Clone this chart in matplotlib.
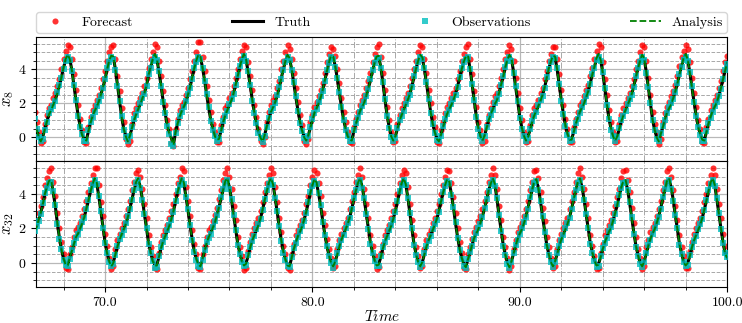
import numpy as np
import matplotlib
matplotlib.use("Agg")
import matplotlib.pyplot as plt
from matplotlib.ticker import MultipleLocator, FormatStrFormatter

plt.rcParams['font.family'] = 'serif'
plt.rcParams['font.serif'] = ['cmr10', 'DejaVu Serif']
plt.rcParams['mathtext.fontset'] = 'cm'
plt.rcParams['axes.formatter.use_mathtext'] = True

# "*" lists are read at t = 66.6 + 0.2k, "*_half" lists at t = 66.7 + 0.2k
t_start = 66.6
dt = 0.2

truth_x8 = [
    1.05, 0.05, 0.05, 0.95, 1.6, 2.2, 3.0, 4.1, 4.8, 3.95,
    2.15, 0.65, -0.1, 0.35, 1.25, 1.8, 2.5, 3.4, 4.45, 4.7,
    3.05, 1.2, 0.1, 0.1, 1.0, 1.65, 2.25, 3.05, 4.15, 4.85,
    3.85, 2.15, 0.7, -0.05, 0.3, 1.2, 1.8, 2.5, 3.5, 4.5,
    4.7, 3.35, 1.7, 0.5, -0.15, 0.4, 1.3, 1.9, 2.6, 3.6,
    4.6, 4.55, 3.05, 1.45, 0.3, -0.2, 0.65, 1.5, 2.05, 2.9,
    4.0, 4.8, 4.0, 2.35, 0.9, 0.05, 0.1, 1.0, 1.7, 2.35,
    3.35, 4.4, 4.7, 3.45, 1.8, 0.5, -0.1, 0.35, 1.2, 1.8,
    2.45, 3.35, 4.4, 4.75, 3.2, 1.3, 0.1, 0.05, 0.95, 1.6,
    2.2, 3.0, 4.05, 4.8, 4.0, 2.3, 0.8, -0.05, 0.15, 1.0,
    1.65, 2.2, 3.0, 4.0, 4.7, 4.05, 2.15, 0.55, -0.15, 0.55,
    1.35, 1.95, 2.6, 3.55, 4.55, 4.6, 2.95, 1.2, 0.1, 0.05,
    0.9, 1.55, 2.15, 2.95, 4.05, 4.75, 4.0, 2.2, 0.7, -0.1,
    0.3, 1.15, 1.75, 2.35, 3.2, 4.15, 4.85, 3.8, 1.95, 0.5,
    -0.15, 0.5, 1.3, 1.9, 2.55, 3.55, 4.5, 4.6, 2.9, 1.05,
    0.0, 0.2, 1.05, 1.7, 2.3, 3.15, 4.2, 4.85, 3.8, 2.1,
    0.65, -0.1, 0.3, 1.2, 1.8, 2.45, 3.4, 4.4]

truth_x8_half = [
    0.45, -0.2, 0.5, 1.35, 1.9, 2.6, 3.55, 4.55, 4.6, 3.05,
    1.3, 0.15, -0.15, 0.85, 1.55, 2.1, 2.95, 4.0, 4.75, 4.0,
    2.1, 0.5, -0.2, 0.55, 1.35, 1.95, 2.6, 3.65, 4.55, 4.6,
    3.05, 1.4, 0.25, -0.45, 0.8, 1.55, 2.1, 2.95, 4.05, 4.8,
    4.1, 2.5, 1.0, 0.1, -0.05, 0.9, 1.6, 2.2, 3.1, 4.15,
    4.85, 3.85, 2.2, 0.8, 0.0, 0.15, 1.1, 1.75, 2.45, 3.5,
    4.5, 4.6, 3.2, 1.6, 0.4, -0.15, 0.55, 1.45, 2.0, 2.8,
    3.9, 4.75, 4.2, 2.6, 1.05, 0.1, -0.15, 0.8, 1.55, 2.05,
    2.9, 3.9, 4.7, 4.1, 2.2, 0.6, -0.15, 0.5, 1.3, 1.9,
    2.55, 3.55, 4.5, 4.65, 3.2, 1.5, 0.3, -0.2, 0.6, 1.4,
    1.9, 2.55, 3.5, 4.45, 4.75, 3.1, 1.25, 0.1, 0.1, 1.0,
    1.65, 2.2, 3.1, 4.1, 4.8, 3.85, 2.1, 0.55, -0.15, 0.45,
    1.3, 1.85, 2.5, 3.5, 4.45, 4.7, 3.1, 1.4, 0.2, -0.1,
    0.8, 1.5, 2.0, 2.7, 3.7, 4.6, 4.55, 2.85, 1.1, 0.1,
    0.05, 0.95, 1.6, 2.2, 3.0, 4.05, 4.8, 3.85, 1.95, 0.45,
    -0.2, 0.6, 1.45, 1.95, 2.7, 3.7, 4.6, 4.55, 2.95, 1.3,
    0.2, -0.15, 0.8, 1.55, 2.05, 2.9, 3.9]

obs_x8 = [
    1.1, 0.0, -0.1, 0.9, 1.65, 2.15, 3.05, 4.0, 4.7, 3.9,
    2.2, 0.6, -0.2, 0.4, 1.2, 1.85, 2.45, 3.45, 4.4, 4.6,
    3.0, 1.25, 0.0, 0.05, 1.05, 1.6, 2.3, 3.0, 4.1, 4.75,
    3.9, 2.1, 0.65, -0.4, 0.25, 1.25, 1.75, 2.55, 3.45, 4.45,
    4.6, 3.3, 1.75, 0.45, -0.2, 0.45, 1.25, 1.95, 2.55, 3.65,
    4.5, 4.5, 3.1, 1.4, 0.25, -0.3, 0.6, 1.55, 2.0, 2.95,
    3.95, 4.7, 3.95, 2.4, 0.85, -0.05, 0.05, 1.05, 1.65, 2.4,
    3.3, 4.35, 4.6, 3.5, 1.75, 0.45, -0.2, 0.4, 1.15, 1.85,
    2.4, 3.4, 4.35, 4.65, 3.25, 1.25, 0.0, -0.05, 1.0, 1.55,
    2.25, 2.95, 4.0, 4.7, 4.05, 2.25, 0.75, -0.15, 0.1, 1.05,
    1.6, 2.25, 2.95, 4.05, 4.6, 4.0, 2.2, 0.5, -0.25, 0.6,
    1.3, 2.0, 2.55, 3.6, 4.5, 4.5, 3.0, 1.15, 0.05, -0.05,
    0.95, 1.5, 2.2, 2.9, 4.0, 4.7, 4.05, 2.15, 0.65, -0.2,
    0.35, 1.1, 1.8, 2.4, 3.15, 4.1, 4.75, 3.85, 1.9, 0.45,
    -0.25, 0.55, 1.25, 1.95, 2.5, 3.6, 4.45, 4.55, 2.95, 1.0,
    -0.1, 0.25, 1.0, 1.75, 2.25, 3.2, 4.15, 4.75, 3.85, 2.05,
    0.6, -0.2, 0.35, 1.15, 1.85, 2.4, 3.45, 4.3]

obs_x8_half = [
    0.5, -0.25, 0.45, 1.4, 1.85, 2.65, 3.5, 4.5, 4.55, 3.1,
    1.25, 0.2, -0.2, 0.9, 1.5, 2.15, 2.9, 4.05, 4.7, 3.95,
    2.15, 0.45, -0.25, 0.6, 1.3, 2.0, 2.55, 3.7, 4.5, 4.55,
    3.0, 1.45, 0.2, -0.5, 0.85, 1.5, 2.15, 2.9, 4.1, 4.75,
    4.05, 2.55, 0.95, 0.05, -0.1, 0.95, 1.55, 2.25, 3.05, 4.2,
    4.8, 3.9, 2.15, 0.85, -0.05, 0.1, 1.15, 1.7, 2.5, 3.45,
    4.45, 4.55, 3.25, 1.55, 0.35, -0.2, 0.6, 1.4, 2.05, 2.75,
    3.95, 4.7, 4.15, 2.65, 1.0, 0.05, -0.2, 0.85, 1.5, 2.1,
    2.85, 3.95, 4.65, 4.05, 2.25, 0.55, -0.2, 0.55, 1.25, 1.95,
    2.5, 3.6, 4.45, 4.6, 3.25, 1.45, 0.25, -0.25, 0.65, 1.35,
    1.95, 2.5, 3.55, 4.4, 4.7, 3.15, 1.2, 0.05, 0.05, 1.05,
    1.6, 2.25, 3.05, 4.15, 4.75, 3.8, 2.15, 0.5, -0.2, 0.5,
    1.25, 1.9, 2.45, 3.55, 4.4, 4.65, 3.15, 1.35, 0.15, -0.15,
    0.85, 1.45, 2.05, 2.65, 3.75, 4.55, 4.5, 2.9, 1.05, 0.05,
    0.0, 1.0, 1.55, 2.25, 2.95, 4.1, 4.75, 3.8, 2.0, 0.4,
    -0.25, 0.65, 1.4, 2.0, 2.65, 3.75, 4.55, 4.5, 3.0, 1.25,
    0.15, -0.2, 0.85, 1.5, 2.1, 2.85, 3.95]

forecast_x8 = [
    1.5, 0.3, -0.2, 1.3, 1.9, 2.6, 3.4, 4.6, 5.4, 4.6,
    2.8, 1.1, -0.3, 0.6, 1.6, 2.2, 2.9, 3.9, 5.0, 5.4,
    3.6, 1.7, -0.1, -0.2, 1.4, 2.0, 2.6, 3.5, 4.6, 5.5,
    4.5, 2.7, 1.0, -0.35, 0.5, 1.6, 2.1, 2.9, 3.9, 5.0,
    5.6, 3.9, 2.2, 0.8, -0.3, 0.7, 1.7, 2.3, 3.0, 4.0,
    5.1, 5.3, 3.6, 1.9, 0.5, -0.4, 0.9, 1.9, 2.4, 3.3,
    4.5, 5.4, 4.6, 2.9, 1.3, -0.25, -0.1, 1.3, 2.1, 2.8,
    3.8, 4.9, 5.2, 4.0, 2.3, 0.9, -0.3, 0.6, 1.5, 2.2,
    2.9, 3.8, 4.9, 5.5, 3.8, 1.8, 0.3, -0.2, 1.3, 2.0,
    2.6, 3.5, 4.5, 5.4, 4.6, 2.8, 1.2, -0.3, 0.4, 1.4,
    2.0, 2.6, 3.4, 4.5, 5.3, 4.6, 2.7, 0.9, -0.35, 0.8,
    1.7, 2.4, 3.0, 4.0, 5.0, 5.2, 3.5, 1.7, 0.3, -0.2,
    1.3, 1.9, 2.6, 3.4, 4.5, 5.3, 4.6, 2.8, 1.1, -0.3,
    0.6, 1.5, 2.1, 2.8, 3.6, 4.6, 5.5, 4.4, 2.5, 0.9,
    -0.3, 0.8, 1.7, 2.3, 3.0, 4.0, 5.0, 5.3, 3.5, 1.5,
    0.3, -0.1, 1.4, 2.1, 2.7, 3.6, 4.7, 5.4, 4.4, 2.6,
    1.0, -0.3, 0.6, 1.6, 2.2, 2.9, 3.9, 4.8]

forecast_x8_half = [
    0.9, -0.35, 0.8, 1.7, 2.3, 3.0, 4.0, 5.1, 5.3, 3.7,
    1.9, 0.4, -0.35, 1.2, 1.9, 2.5, 3.4, 4.5, 5.3, 4.6,
    2.7, 0.9, -0.4, 0.8, 1.7, 2.3, 3.0, 4.1, 5.0, 5.3,
    3.6, 1.9, 0.5, -0.5, 1.1, 1.9, 2.5, 3.4, 4.5, 5.6,
    4.7, 3.0, 1.5, 0.3, -0.3, 1.2, 1.9, 2.6, 3.5, 4.6,
    5.4, 4.4, 2.8, 1.2, -0.2, 0.0, 1.5, 2.2, 2.9, 4.0,
    5.0, 5.2, 3.8, 2.1, 0.7, -0.4, 0.9, 1.8, 2.4, 3.2,
    4.4, 5.3, 4.8, 3.2, 1.5, 0.3, -0.35, 1.1, 1.9, 2.5,
    3.3, 4.4, 5.3, 4.7, 2.8, 1.0, -0.3, 0.8, 1.7, 2.3,
    3.0, 4.0, 5.0, 5.3, 3.8, 2.0, 0.6, -0.35, 0.9, 1.8,
    2.3, 2.9, 3.9, 4.9, 5.5, 3.7, 1.8, 0.4, -0.2, 1.3,
    2.1, 2.6, 3.5, 4.6, 5.4, 4.5, 2.6, 1.0, -0.3, 0.7,
    1.7, 2.2, 2.9, 3.9, 4.9, 5.3, 3.7, 1.9, 0.5, -0.3,
    1.1, 1.9, 2.4, 3.1, 4.1, 5.1, 5.3, 3.4, 1.6, 0.3,
    -0.2, 1.3, 2.0, 2.6, 3.4, 4.5, 5.4, 4.5, 2.5, 0.8,
    -0.4, 0.9, 1.8, 2.4, 3.1, 4.2, 5.1, 5.2, 3.5, 1.8,
    0.5, -0.35, 1.1, 1.9, 2.5, 3.3, 4.4]

analysis_x8 = [
    1.0, 0.05, 0.0, 0.95, 1.6, 2.2, 3.05, 4.1, 4.85, 3.95,
    2.15, 0.6, -0.1, 0.35, 1.25, 1.8, 2.5, 3.4, 4.5, 4.75,
    3.05, 1.2, 0.05, 0.1, 1.0, 1.65, 2.3, 3.05, 4.15, 4.9,
    3.85, 2.15, 0.7, -0.1, 0.3, 1.2, 1.8, 2.5, 3.5, 4.5,
    4.75, 3.35, 1.7, 0.5, -0.15, 0.4, 1.3, 1.9, 2.6, 3.6,
    4.6, 4.6, 3.05, 1.45, 0.3, -0.25, 0.65, 1.5, 2.05, 2.9,
    4.0, 4.85, 4.0, 2.35, 0.9, 0.0, 0.1, 1.0, 1.7, 2.35,
    3.35, 4.4, 4.75, 3.45, 1.8, 0.5, -0.15, 0.35, 1.2, 1.8,
    2.45, 3.35, 4.4, 4.8, 3.2, 1.3, 0.05, 0.05, 0.95, 1.6,
    2.2, 3.0, 4.05, 4.85, 4.0, 2.3, 0.8, -0.1, 0.15, 1.0,
    1.65, 2.2, 3.0, 4.0, 4.75, 4.05, 2.15, 0.55, -0.2, 0.55,
    1.35, 1.95, 2.6, 3.55, 4.55, 4.65, 2.95, 1.2, 0.1, 0.0,
    0.9, 1.55, 2.15, 2.95, 4.05, 4.8, 4.0, 2.2, 0.7, -0.15,
    0.3, 1.15, 1.75, 2.35, 3.2, 4.15, 4.9, 3.8, 1.95, 0.5,
    -0.2, 0.5, 1.3, 1.9, 2.55, 3.55, 4.5, 4.65, 2.9, 1.05,
    0.0, 0.2, 1.05, 1.7, 2.3, 3.15, 4.2, 4.9, 3.8, 2.1,
    0.6, -0.15, 0.3, 1.2, 1.8, 2.45, 3.4, 4.4]

analysis_x8_half = [
    0.45, -0.25, 0.5, 1.35, 1.9, 2.6, 3.55, 4.6, 4.6, 3.05,
    1.3, 0.1, -0.2, 0.85, 1.55, 2.1, 2.95, 4.0, 4.8, 4.0,
    2.1, 0.5, -0.25, 0.55, 1.35, 1.95, 2.6, 3.65, 4.6, 4.6,
    3.05, 1.4, 0.2, -0.45, 0.8, 1.55, 2.1, 2.95, 4.05, 4.85,
    4.1, 2.5, 1.0, 0.05, -0.1, 0.9, 1.6, 2.2, 3.1, 4.15,
    4.9, 3.85, 2.2, 0.8, -0.05, 0.15, 1.1, 1.75, 2.45, 3.5,
    4.5, 4.65, 3.2, 1.6, 0.4, -0.2, 0.55, 1.45, 2.0, 2.8,
    3.9, 4.8, 4.2, 2.6, 1.05, 0.05, -0.2, 0.8, 1.55, 2.05,
    2.9, 3.9, 4.75, 4.1, 2.2, 0.6, -0.2, 0.5, 1.3, 1.9,
    2.55, 3.55, 4.5, 4.7, 3.2, 1.5, 0.3, -0.25, 0.6, 1.4,
    1.9, 2.55, 3.5, 4.45, 4.8, 3.1, 1.25, 0.05, 0.1, 1.0,
    1.65, 2.2, 3.1, 4.1, 4.85, 3.85, 2.1, 0.55, -0.2, 0.45,
    1.3, 1.85, 2.5, 3.5, 4.45, 4.75, 3.1, 1.4, 0.2, -0.15,
    0.8, 1.5, 2.0, 2.7, 3.7, 4.65, 4.55, 2.85, 1.1, 0.05,
    0.05, 0.95, 1.6, 2.2, 3.0, 4.05, 4.85, 3.85, 1.95, 0.45,
    -0.25, 0.6, 1.45, 1.95, 2.7, 3.7, 4.65, 4.55, 2.95, 1.3,
    0.2, -0.2, 0.8, 1.55, 2.05, 2.9, 3.9]

truth_x32 = [
    1.8, 2.5, 3.4, 4.4, 4.75, 3.3, 1.45, 0.25, -0.1, 0.7,
    1.5, 2.0, 2.65, 3.6, 4.55, 4.6, 2.95, 1.2, 0.1, 0.05,
    0.95, 1.65, 2.25, 3.15, 4.2, 4.85, 3.7, 2.0, 0.6, -0.1,
    0.35, 1.25, 1.85, 2.55, 3.55, 4.55, 4.6, 3.05, 1.4, 0.25,
    -0.15, 0.7, 1.5, 2.05, 2.8, 3.75, 4.7, 4.35, 2.75, 1.1,
    0.1, 0.0, 0.9, 1.6, 2.2, 3.1, 4.15, 4.85, 3.8, 2.1,
    0.65, -0.1, 0.3, 1.2, 1.8, 2.5, 3.5, 4.5, 4.6, 3.3,
    1.65, 0.45, -0.15, 0.5, 1.35, 1.95, 2.65, 3.7, 4.65, 4.4,
    2.8, 1.15, 0.15, -0.05, 0.85, 1.55, 2.15, 3.0, 4.1, 4.85,
    3.8, 1.95, 0.5, -0.15, 0.5, 1.3, 1.9, 2.55, 3.55, 4.5,
    4.65, 3.2, 1.5, 0.3, -0.2, 0.6, 1.45, 1.95, 2.7, 3.65,
    4.6, 4.5, 2.75, 1.05, 0.05, 0.1, 1.0, 1.7, 2.3, 3.2,
    4.25, 4.8, 3.55, 1.85, 0.5, -0.15, 0.5, 1.35, 1.95, 2.65,
    3.7, 4.65, 4.4, 2.8, 1.15, 0.15, -0.05, 0.8, 1.5, 2.05,
    2.9, 3.9, 4.7, 4.25, 2.6, 1.0, 0.05, 0.1, 1.0, 1.7,
    2.3, 3.2, 4.25, 4.85, 3.65, 1.95, 0.55, -0.1, 0.4, 1.3,
    1.9, 2.6, 3.6, 4.6, 4.5, 2.85, 1.2, 0.3]

truth_x32_half = [
    2.1, 2.9, 4.0, 4.7, 4.1, 2.3, 0.75, -0.05, 0.3, 1.1,
    1.7, 2.3, 3.15, 4.15, 4.85, 3.85, 2.1, 0.55, -0.15, 0.5,
    1.35, 1.95, 2.65, 3.7, 4.65, 4.4, 2.8, 1.15, 0.15, -0.1,
    0.85, 1.55, 2.15, 3.0, 4.1, 4.85, 3.85, 2.15, 0.7, -0.05,
    0.25, 1.15, 1.75, 2.35, 3.25, 4.25, 4.85, 3.65, 1.95, 0.55,
    -0.1, 0.4, 1.3, 1.9, 2.6, 3.65, 4.6, 4.55, 2.95, 1.3,
    0.2, -0.15, 0.8, 1.55, 2.1, 2.95, 4.05, 4.8, 4.0, 2.4,
    0.95, 0.05, 0.1, 0.95, 1.65, 2.25, 3.15, 4.2, 4.85, 3.7,
    2.0, 0.6, -0.1, 0.35, 1.25, 1.85, 2.55, 3.55, 4.55, 4.55,
    2.85, 1.1, 0.1, 0.05, 0.95, 1.6, 2.2, 3.0, 4.05, 4.8,
    4.0, 2.3, 0.8, -0.05, 0.2, 1.05, 1.7, 2.3, 3.15, 4.2,
    4.85, 3.7, 1.9, 0.5, -0.2, 0.55, 1.4, 1.95, 2.7, 3.75,
    4.7, 4.3, 2.65, 1.05, 0.1, 0.1, 0.95, 1.65, 2.25, 3.15,
    4.2, 4.85, 3.7, 2.0, 0.6, -0.1, 0.35, 1.2, 1.8, 2.45,
    3.35, 4.4, 4.75, 3.45, 1.75, 0.45, -0.15, 0.55, 1.4, 1.95,
    2.7, 3.75, 4.7, 4.35, 2.75, 1.1, 0.1, 0.0, 0.9, 1.6,
    2.2, 3.1, 4.15, 4.85, 3.7, 2.0, 0.55]

obs_x32 = [
    1.85, 2.45, 3.45, 4.35, 4.7, 3.35, 1.4, 0.2, -0.2, 0.75,
    1.45, 2.05, 2.6, 3.65, 4.5, 4.55, 3.0, 1.15, 0.05, -0.05,
    1.0, 1.6, 2.3, 3.1, 4.25, 4.8, 3.65, 2.05, 0.55, -0.3,
    0.4, 1.2, 1.9, 2.5, 3.6, 4.5, 4.55, 3.1, 1.35, 0.2,
    -0.25, 0.75, 1.45, 2.1, 2.75, 3.8, 4.65, 4.3, 2.8, 1.05,
    0.05, -0.1, 0.95, 1.55, 2.25, 3.05, 4.2, 4.8, 3.75, 2.15,
    0.6, -0.2, 0.35, 1.15, 1.85, 2.45, 3.55, 4.45, 4.55, 3.35,
    1.6, 0.4, -0.3, 0.55, 1.3, 2.0, 2.6, 3.75, 4.6, 4.35,
    2.85, 1.1, 0.1, -0.15, 0.9, 1.5, 2.2, 2.95, 4.15, 4.8,
    3.75, 2.0, 0.45, -0.25, 0.55, 1.25, 1.95, 2.5, 3.6, 4.45,
    4.6, 3.25, 1.45, 0.25, -0.3, 0.65, 1.4, 2.0, 2.65, 3.7,
    4.55, 4.45, 2.8, 1.0, -0.05, 0.05, 1.05, 1.65, 2.35, 3.15,
    4.3, 4.75, 3.6, 1.8, 0.45, -0.25, 0.55, 1.3, 2.0, 2.6,
    3.75, 4.6, 4.35, 2.85, 1.1, 0.1, -0.15, 0.85, 1.45, 2.1,
    2.85, 3.95, 4.65, 4.2, 2.65, 0.95, -0.05, 0.05, 1.05, 1.65,
    2.35, 3.15, 4.3, 4.8, 3.6, 2.0, 0.5, -0.2, 0.45, 1.25,
    1.95, 2.55, 3.65, 4.55, 4.45, 2.9, 1.15, 0.35]

obs_x32_half = [
    2.15, 2.85, 4.05, 4.65, 4.15, 2.25, 0.8, -0.1, 0.25, 1.15,
    1.65, 2.35, 3.1, 4.2, 4.8, 3.9, 2.05, 0.6, -0.2, 0.45,
    1.4, 1.9, 2.7, 3.65, 4.6, 4.35, 2.85, 1.1, 0.1, -0.25,
    0.9, 1.5, 2.2, 2.95, 4.15, 4.8, 3.8, 2.2, 0.65, -0.15,
    0.2, 1.2, 1.7, 2.4, 3.2, 4.3, 4.8, 3.7, 1.9, 0.5,
    -0.2, 0.45, 1.25, 1.95, 2.55, 3.7, 4.55, 4.5, 3.0, 1.25,
    0.15, -0.25, 0.85, 1.5, 2.15, 2.9, 4.1, 4.75, 4.05, 2.35,
    1.0, 0.0, 0.05, 1.0, 1.6, 2.3, 3.1, 4.25, 4.8, 3.75,
    1.95, 0.55, -0.2, 0.4, 1.2, 1.9, 2.5, 3.6, 4.5, 4.5,
    2.9, 1.05, 0.05, -0.05, 1.0, 1.55, 2.25, 2.95, 4.1, 4.75,
    3.95, 2.35, 0.75, -0.15, 0.25, 1.0, 1.75, 2.25, 3.2, 4.15,
    4.8, 3.75, 1.85, 0.45, -0.3, 0.6, 1.35, 2.0, 2.65, 3.8,
    4.65, 4.25, 2.7, 1.0, 0.05, 0.05, 1.0, 1.6, 2.3, 3.1,
    4.25, 4.8, 3.65, 2.05, 0.55, -0.25, 0.4, 1.15, 1.85, 2.4,
    3.4, 4.35, 4.7, 3.5, 1.7, 0.4, -0.25, 0.6, 1.35, 2.0,
    2.65, 3.8, 4.65, 4.3, 2.8, 1.05, 0.05, -0.1, 0.95, 1.55,
    2.25, 3.05, 4.2, 4.8, 3.75, 1.95, 0.6]

forecast_x32 = [
    2.2, 2.9, 3.8, 4.9, 5.5, 3.9, 2.0, 0.5, -0.35, 0.9,
    1.9, 2.3, 3.1, 4.1, 5.1, 5.5, 3.5, 1.7, 0.3, -0.2,
    1.3, 2.0, 2.7, 3.6, 4.7, 5.4, 4.3, 2.6, 0.9, -0.3,
    0.6, 1.6, 2.2, 3.0, 4.0, 5.0, 5.3, 3.6, 1.9, 0.5,
    -0.35, 1.0, 1.9, 2.4, 3.2, 4.2, 5.2, 5.0, 3.3, 1.5,
    0.4, -0.3, 1.2, 2.0, 2.6, 3.5, 4.6, 5.5, 4.4, 2.6,
    1.0, -0.3, 0.5, 1.6, 2.2, 2.9, 3.9, 5.0, 5.2, 3.9,
    2.2, 0.8, -0.3, 0.8, 1.7, 2.3, 3.1, 4.1, 5.1, 5.0,
    3.4, 1.6, 0.4, -0.25, 1.1, 1.9, 2.6, 3.4, 4.6, 5.4,
    4.4, 2.5, 0.9, -0.3, 0.8, 1.7, 2.3, 3.0, 4.0, 5.0,
    5.3, 3.8, 2.0, 0.6, -0.35, 0.9, 1.8, 2.4, 3.1, 4.1,
    5.1, 5.1, 3.3, 1.5, 0.3, -0.2, 1.3, 2.1, 2.7, 3.6,
    4.7, 5.4, 4.1, 2.4, 0.9, -0.3, 0.8, 1.7, 2.3, 3.1,
    4.1, 5.2, 5.0, 3.4, 1.6, 0.4, -0.3, 1.1, 1.9, 2.5,
    3.3, 4.3, 5.3, 4.8, 3.2, 1.5, 0.3, -0.2, 1.3, 2.1,
    2.7, 3.6, 4.7, 5.5, 4.2, 2.5, 0.9, -0.3, 0.7, 1.7,
    2.3, 3.0, 4.0, 5.1, 5.1, 3.4, 1.7, 0.5]

forecast_x32_half = [
    2.5, 3.3, 4.5, 5.3, 4.7, 2.9, 1.2, -0.3, 0.5, 1.5,
    2.1, 2.7, 3.6, 4.6, 5.5, 4.5, 2.7, 1.0, -0.35, 0.8,
    1.7, 2.3, 3.1, 4.2, 5.2, 5.0, 3.4, 1.6, 0.4, -0.35,
    1.2, 1.9, 2.6, 3.4, 4.6, 5.5, 4.4, 2.7, 1.1, -0.3,
    0.5, 1.5, 2.1, 2.8, 3.7, 4.8, 5.5, 4.3, 2.5, 0.9,
    -0.4, 0.7, 1.7, 2.3, 3.0, 4.1, 5.1, 5.2, 3.5, 1.8,
    0.5, -0.4, 1.1, 1.9, 2.5, 3.4, 4.5, 5.4, 4.6, 2.9,
    1.4, 0.3, -0.2, 1.3, 2.0, 2.6, 3.6, 4.7, 5.5, 4.3,
    2.6, 1.0, -0.35, 0.6, 1.6, 2.2, 3.0, 4.0, 5.1, 5.2,
    3.4, 1.6, 0.4, -0.2, 1.3, 1.9, 2.6, 3.4, 4.5, 5.4,
    4.6, 2.9, 1.2, -0.3, 0.5, 1.4, 2.1, 2.7, 3.6, 4.7,
    5.5, 4.3, 2.5, 0.9, -0.4, 0.8, 1.8, 2.3, 3.1, 4.2,
    5.3, 4.9, 3.2, 1.5, 0.3, -0.2, 1.3, 2.0, 2.6, 3.6,
    4.7, 5.5, 4.3, 2.6, 1.0, -0.35, 0.6, 1.6, 2.2, 2.9,
    3.8, 4.9, 5.4, 4.1, 2.3, 0.8, -0.35, 0.9, 1.8, 2.3,
    3.1, 4.2, 5.3, 5.0, 3.3, 1.6, 0.4, -0.3, 1.2, 2.0,
    2.6, 3.5, 4.6, 5.5, 4.3, 2.6, 1.0]

analysis_x32 = [
    1.8, 2.5, 3.4, 4.4, 4.8, 3.3, 1.45, 0.25, -0.15, 0.7,
    1.5, 2.0, 2.65, 3.6, 4.55, 4.65, 2.95, 1.2, 0.1, 0.0,
    0.95, 1.65, 2.25, 3.15, 4.2, 4.9, 3.7, 2.0, 0.6, -0.15,
    0.35, 1.25, 1.85, 2.55, 3.55, 4.55, 4.65, 3.05, 1.4, 0.25,
    -0.2, 0.7, 1.5, 2.05, 2.8, 3.75, 4.75, 4.35, 2.75, 1.1,
    0.1, -0.05, 0.9, 1.6, 2.2, 3.1, 4.15, 4.9, 3.8, 2.1,
    0.65, -0.15, 0.3, 1.2, 1.8, 2.5, 3.5, 4.5, 4.65, 3.3,
    1.65, 0.45, -0.2, 0.5, 1.35, 1.95, 2.65, 3.7, 4.65, 4.45,
    2.8, 1.15, 0.15, -0.1, 0.85, 1.55, 2.15, 3.0, 4.1, 4.9,
    3.8, 1.95, 0.5, -0.2, 0.5, 1.3, 1.9, 2.55, 3.55, 4.5,
    4.7, 3.2, 1.5, 0.3, -0.25, 0.6, 1.45, 1.95, 2.7, 3.65,
    4.6, 4.55, 2.75, 1.05, 0.0, 0.1, 1.0, 1.7, 2.3, 3.2,
    4.25, 4.85, 3.55, 1.85, 0.5, -0.2, 0.5, 1.35, 1.95, 2.65,
    3.7, 4.7, 4.4, 2.8, 1.15, 0.15, -0.1, 0.8, 1.5, 2.05,
    2.9, 3.9, 4.75, 4.25, 2.6, 1.0, 0.0, 0.1, 1.0, 1.7,
    2.3, 3.2, 4.25, 4.9, 3.65, 1.95, 0.55, -0.15, 0.4, 1.3,
    1.9, 2.6, 3.6, 4.65, 4.5, 2.85, 1.2, 0.3]

analysis_x32_half = [
    2.1, 2.9, 4.0, 4.75, 4.1, 2.3, 0.75, -0.1, 0.3, 1.1,
    1.7, 2.3, 3.15, 4.15, 4.9, 3.85, 2.1, 0.55, -0.2, 0.5,
    1.35, 1.95, 2.65, 3.7, 4.7, 4.4, 2.8, 1.15, 0.1, -0.15,
    0.85, 1.55, 2.15, 3.0, 4.1, 4.9, 3.85, 2.15, 0.7, -0.1,
    0.25, 1.15, 1.75, 2.35, 3.25, 4.25, 4.9, 3.65, 1.95, 0.55,
    -0.15, 0.4, 1.3, 1.9, 2.6, 3.65, 4.65, 4.55, 2.95, 1.3,
    0.2, -0.2, 0.8, 1.55, 2.1, 2.95, 4.05, 4.85, 4.0, 2.4,
    0.95, 0.0, 0.1, 0.95, 1.65, 2.25, 3.15, 4.2, 4.9, 3.7,
    2.0, 0.6, -0.15, 0.35, 1.25, 1.85, 2.55, 3.55, 4.6, 4.55,
    2.85, 1.1, 0.05, 0.05, 0.95, 1.6, 2.2, 3.0, 4.05, 4.85,
    4.0, 2.3, 0.8, -0.1, 0.2, 1.05, 1.7, 2.3, 3.15, 4.2,
    4.9, 3.7, 1.9, 0.5, -0.25, 0.55, 1.4, 1.95, 2.7, 3.75,
    4.75, 4.3, 2.65, 1.05, 0.05, 0.1, 0.95, 1.65, 2.25, 3.15,
    4.2, 4.9, 3.7, 2.0, 0.6, -0.15, 0.35, 1.2, 1.8, 2.45,
    3.35, 4.4, 4.8, 3.45, 1.75, 0.45, -0.2, 0.55, 1.4, 1.95,
    2.7, 3.75, 4.75, 4.35, 2.75, 1.1, 0.05, 0.0, 0.9, 1.6,
    2.2, 3.1, 4.15, 4.9, 3.7, 2.0, 0.55]

panels = [
    (r'$x_{8}$', truth_x8, truth_x8_half, obs_x8, obs_x8_half,
     forecast_x8, forecast_x8_half, analysis_x8, analysis_x8_half),
    (r'$x_{32}$', truth_x32, truth_x32_half, obs_x32, obs_x32_half,
     forecast_x32, forecast_x32_half, analysis_x32, analysis_x32_half),
]


def merge(a, b):
    # a sits on the 0.2 grid, b half a step later
    out = np.empty(len(a) + len(b))
    out[0::2] = a
    out[1::2] = b
    return out


fig = plt.figure(figsize=(7.42, 3.23), dpi=100)
ax_top = fig.add_axes([0.0485, 0.5015, 0.9315, 0.384])
ax_bot = fig.add_axes([0.0485, 0.111, 0.9315, 0.3905], sharex=ax_top)

for ax, (ylab, tr, tr_h, ob, ob_h, fc, fc_h, an, an_h) in zip([ax_top, ax_bot], panels):
    n = len(tr) + len(tr_h)
    t = t_start + 0.5 * dt * np.arange(n)
    ax.plot(t, merge(fc, fc_h), 'o', color='red', alpha=0.8, ms=4.4, mew=0,
            label='Forecast', zorder=2)
    ax.plot(t, merge(tr, tr_h), '-', color='black', lw=2.2, label='Truth', zorder=3)
    ax.plot(t, merge(ob, ob_h), 's', color='c', alpha=0.8, ms=4.0, mew=0,
            label='Observations', zorder=4)
    ax.plot(t, merge(an, an_h), '--', color='green', lw=1.3, label='Analysis', zorder=5)
    ax.set_ylabel(ylab, fontsize=12, labelpad=1)
    ax.set_ylim(-1.4, 5.9)
    ax.yaxis.set_major_locator(MultipleLocator(2))
    ax.yaxis.set_minor_locator(MultipleLocator(0.5))
    ax.xaxis.set_major_locator(MultipleLocator(10))
    ax.xaxis.set_minor_locator(MultipleLocator(2))
    ax.grid(which='major', color='#b8b8b8', lw=0.9, ls='-')
    ax.yaxis.grid(which='minor', color='#a8a8a8', lw=0.7, ls='--')
    ax.xaxis.grid(which='minor', color='#a8a8a8', lw=0.7, ls='-.')
    ax.set_axisbelow(True)
    ax.tick_params(labelsize=10)

ax_top.set_xlim(66.67, 100)
ax_top.tick_params(labelbottom=False)
ax_bot.xaxis.set_major_formatter(FormatStrFormatter('%.1f'))
ax_bot.set_xlabel(r'$Time$', fontsize=11, labelpad=0)

handles, labels = ax_top.get_legend_handles_labels()
fig.legend(handles, labels, ncol=4, mode='expand', loc='lower left',
           bbox_to_anchor=(0.0485, 0.897, 0.9315, 0.073), fontsize=10,
           frameon=True, borderaxespad=0, handlelength=2.2, borderpad=0.3)

fig.savefig('out.png', dpi=100)
